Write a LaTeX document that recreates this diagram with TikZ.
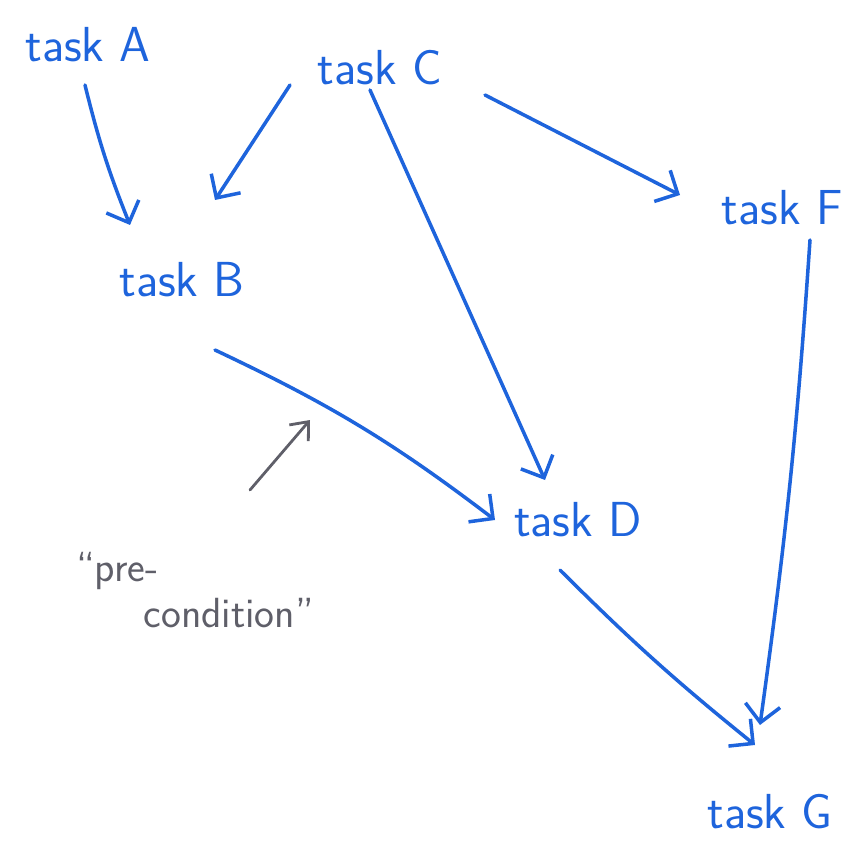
\documentclass[tikz,border=0pt]{standalone}
\usepackage{xcolor}
\usetikzlibrary{arrows.meta}
\definecolor{penblue}{RGB}{30,100,220}
\definecolor{pencil}{RGB}{95,95,105}
\tikzset{
  task/.style={
    text=penblue,
    font=\sffamily\fontsize{28}{32}\selectfont
  },
  note/.style={
    text=pencil,
    align=left,
    font=\sffamily\fontsize{24}{26}\selectfont
  }
}

\begin{document}
\begin{tikzpicture}[
    x=0.02cm,
    y=-0.02cm,
    depends/.style={
      draw=penblue,
      line width=2pt,
      line cap=round,
      -{Straight Barb[length=3.5mm,width=7mm]}
    },
    pointer/.style={
      draw=pencil,
      line width=1.6pt,
      line cap=round,
      -{Straight Barb[length=3mm,width=5mm]}
    }
  ]
  \useasboundingbox (0,0) rectangle (859,841);
  \node[task] (taskA) at (88,45)  {task A};
  \node[task] (taskC) at (380,68) {task C};
  \node[task] (taskB) at (182,280) {task B};
  \node[task] (taskF) at (782,208) {task F};
  \node[task] (taskD) at (578,520) {task D};
  \node[task] (taskG) at (770,812) {task G};
  \node[note] (pre) at (195,590) {``pre-\\\hspace*{1.6em}condition''};
  \draw[depends] ([shift={(-3,40)}]taskA.center) to[bend right=4] ([shift={(-52,-55)}]taskB.center);
  \draw[depends] ([shift={(-90,17)}]taskC.center) -- ([shift={(33,-80)}]taskB.center);
  \draw[depends] ([shift={(-10,22)}]taskC.center) -- ([shift={(-33,-40)}]taskD.center);
  \draw[depends] ([shift={(105,27)}]taskC.center) -- ([shift={(-102,-13)}]taskF.center);
  \draw[depends] ([shift={(33,70)}]taskB.center) to[bend left=6] ([shift={(-83,0)}]taskD.center);
  \draw[depends] ([shift={(28,32)}]taskF.center) to[bend left=2] ([shift={(-10,-87)}]taskG.center);
  \draw[depends] ([shift={(-18,50)}]taskD.center) to[bend right=3] ([shift={(-15,-67)}]taskG.center);
  \draw[pointer] ([shift={(55,-100)}]pre.center) -- ([shift={(115,-170)}]pre.center);
\end{tikzpicture}
\end{document}
